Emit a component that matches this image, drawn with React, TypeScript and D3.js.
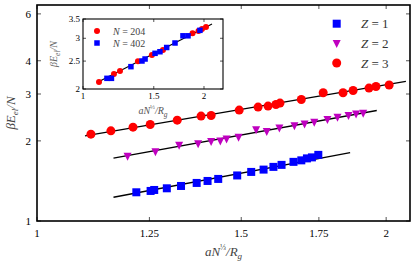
import { scaleLog } from 'd3';

// Z = 1 (blue squares)
const z1X = [1.218, 1.253, 1.262, 1.294, 1.331, 1.373, 1.403, 1.433, 1.488, 1.530, 1.568, 1.599, 1.625, 1.664, 1.690, 1.709, 1.726, 1.748];
const z1Y = [1.282, 1.297, 1.308, 1.327, 1.354, 1.390, 1.414, 1.439, 1.483, 1.529, 1.560, 1.597, 1.625, 1.668, 1.690, 1.719, 1.734, 1.772];
// Z = 2 (magenta triangles)
const z2X = [1.197, 1.265, 1.326, 1.377, 1.413, 1.439, 1.457, 1.492, 1.545, 1.578, 1.618, 1.667, 1.701, 1.734, 1.780, 1.816, 1.856, 1.884, 1.911];
const z2Y = [1.764, 1.834, 1.941, 1.966, 2.001, 2.013, 2.045, 2.080, 2.216, 2.182, 2.252, 2.298, 2.332, 2.364, 2.421, 2.470, 2.506, 2.543, 2.556];
// Z = 3 (red circles)
const z3X = [1.113, 1.158, 1.210, 1.252, 1.321, 1.385, 1.413, 1.494, 1.551, 1.582, 1.607, 1.620, 1.690, 1.765, 1.836, 1.873, 1.933, 1.960, 2.012];
const z3Y = [2.120, 2.182, 2.252, 2.304, 2.393, 2.478, 2.491, 2.610, 2.679, 2.702, 2.740, 2.773, 2.861, 3.032, 3.032, 3.093, 3.158, 3.203, 3.242];

// fit lines [x0, x1], [y0, y1]
const fit1X = [1.164, 1.862];
const fit1Y = [1.228, 1.807];
const fit2X = [1.164, 1.963];
const fit2Y = [1.722, 2.601];
const fit3X = [1.100, 2.080];
const fit3Y = [2.089, 3.344];

// inset
const n204X = [1.096, 1.194, 1.236, 1.370, 1.484, 1.581, 1.873, 1.938, 1.977, 2.023];
const n204Y = [2.115, 2.254, 2.309, 2.496, 2.625, 2.732, 3.122, 3.180, 3.231, 3.283];
const n402X = [1.147, 1.177, 1.316, 1.402, 1.427, 1.511, 1.554, 1.615, 1.694, 1.773, 1.825, 1.954];
const n402Y = [2.178, 2.178, 2.391, 2.502, 2.542, 2.660, 2.694, 2.787, 2.889, 3.060, 3.060, 3.197];
const fitInX = [1.090, 2.094];
const fitInY = [2.115, 3.363];

const xTicks = [1, 1.25, 1.5, 1.75, 2];
const yTicks = [1, 2, 3, 4, 6];
const insetXTicks = [1, 1.5, 2];
const insetYTicks = [2, 2.5, 3, 3.5];

const BLUE = '#0000ff';
const MAGENTA = '#bf00bf';
const RED = '#ff0000';
const font = 'Liberation Serif, DejaVu Serif, serif';

const width = 416;
const height = 267;
const frame = { left: 37, right: 410, top: 5, bottom: 221 };
const inset = { left: 83, right: 223, top: 19, bottom: 89 };

const Square = ({ x, y, s, fill }: any) => (
  <rect x={x - s / 2} y={y - s / 2} width={s} height={s} fill={fill} />
);
const TriDown = ({ x, y, r, fill }: any) => (
  <path d={`M${x - r},${y - r} L${x + r},${y - r} L${x},${y + r} Z`} fill={fill} />
);

function App() {
  const x = scaleLog().domain([1, 2.097]).range([frame.left, frame.right]);
  const y = scaleLog().domain([1, 6.48]).range([frame.bottom, frame.top]);
  const xi = scaleLog().domain([1, 2.23]).range([inset.left, inset.right]);
  const yi = scaleLog().domain([2, 3.5]).range([inset.bottom, inset.top]);

  const fitLine = (sx: any, sy: any, fx: number[], fy: number[], w: number) => (
    <line x1={sx(fx[0])} y1={sy(fy[0])} x2={sx(fx[1])} y2={sy(fy[1])} stroke='black' strokeWidth={w} />
  );

  return (
    <svg width={width} height={height} style={{ position: 'absolute', left: 0, top: 0, background: 'white' }} fontFamily={font}>
      {/* main ticks */}
      {xTicks.map(t => (
        <g key={'xt' + t}>
          <line x1={x(t)} x2={x(t)} y1={frame.bottom} y2={frame.bottom - 4} stroke='#555' />
          <line x1={x(t)} x2={x(t)} y1={frame.top} y2={frame.top + 4} stroke='#555' />
          <text x={x(t)} y={frame.bottom + 16} textAnchor='middle' fontSize={11}>{t}</text>
        </g>
      ))}
      {yTicks.map(t => (
        <g key={'yt' + t}>
          <line x1={frame.left} x2={frame.left + 4} y1={y(t)} y2={y(t)} stroke='#555' />
          <line x1={frame.right} x2={frame.right - 4} y1={y(t)} y2={y(t)} stroke='#555' />
          <text x={frame.left - 6} y={y(t)} dy='.35em' textAnchor='end' fontSize={11}>{t}</text>
        </g>
      ))}

      {/* fits */}
      {fitLine(x, y, fit3X, fit3Y, 1.3)}
      {fitLine(x, y, fit2X, fit2Y, 1.3)}
      {fitLine(x, y, fit1X, fit1Y, 1.3)}

      {z3X.map((d, i) => <circle key={'c' + i} cx={x(d)} cy={y(z3Y[i])} r={4.5} fill={RED} />)}
      {z2X.map((d, i) => <TriDown key={'t' + i} x={x(d)} y={y(z2Y[i]) + 1.3} r={4} fill={MAGENTA} />)}
      {z1X.map((d, i) => <Square key={'s' + i} x={x(d)} y={y(z1Y[i])} s={8} fill={BLUE} />)}

      <rect x={frame.left} y={frame.top} width={frame.right - frame.left} height={frame.bottom - frame.top}
        fill='none' stroke='black' strokeWidth={1.6} />

      {/* axis labels */}
      <text x={(frame.left + frame.right) / 2} y={256} textAnchor='middle' fontSize={13} fill='#444' fontStyle='italic'>
        aN<tspan fontSize={8} dy={-6} fontStyle='normal'>⅓</tspan><tspan dy={6}>/R</tspan><tspan fontSize={9} dy={3}>g</tspan>
      </text>
      <text transform={`translate(15, ${(frame.top + frame.bottom) / 2}) rotate(-90)`} textAnchor='middle' fontSize={13} fill='#444' fontStyle='italic'>
        βE<tspan fontSize={9} dy={3}>el</tspan><tspan dy={-3}>/N</tspan>
      </text>

      {/* legend */}
      <Square x={336.7} y={23.7} s={8} fill={BLUE} />
      <TriDown x={336.7} y={44} r={4} fill={MAGENTA} />
      <circle cx={336.7} cy={63} r={4.5} fill={RED} />
      {['1', '2', '3'].map((z, i) => (
        <text key={'lg' + z} x={361} y={23.7 + i * 19.7} dy='.35em' fontSize={13} fill='#333'>
          <tspan fontStyle='italic'>Z</tspan> = {z}
        </text>
      ))}

      {/* inset */}
      <rect x={inset.left} y={inset.top} width={inset.right - inset.left} height={inset.bottom - inset.top} fill='white' />
      {insetXTicks.map(t => (
        <g key={'ixt' + t}>
          <line x1={xi(t)} x2={xi(t)} y1={inset.bottom} y2={inset.bottom - 3} stroke='#555' />
          <line x1={xi(t)} x2={xi(t)} y1={inset.top} y2={inset.top + 3} stroke='#555' />
          <text x={xi(t)} y={inset.bottom + 10} textAnchor='middle' fontSize={9}>{t}</text>
        </g>
      ))}
      {insetYTicks.map(t => (
        <g key={'iyt' + t}>
          <line x1={inset.left} x2={inset.left + 3} y1={yi(t)} y2={yi(t)} stroke='#555' />
          <line x1={inset.right} x2={inset.right - 3} y1={yi(t)} y2={yi(t)} stroke='#555' />
          <text x={inset.left - 3} y={yi(t)} dy='.35em' textAnchor='end' fontSize={9}>{t}</text>
        </g>
      ))}
      {fitLine(xi, yi, fitInX, fitInY, 1.1)}
      {n204X.map((d, i) => <circle key={'ic' + i} cx={xi(d)} cy={yi(n204Y[i])} r={3} fill={RED} />)}
      {n402X.map((d, i) => <Square key={'is' + i} x={xi(d)} y={yi(n402Y[i])} s={5.5} fill={BLUE} />)}
      <rect x={inset.left} y={inset.top} width={inset.right - inset.left} height={inset.bottom - inset.top}
        fill='none' stroke='black' strokeWidth={1.1} />

      <circle cx={97} cy={31} r={3} fill={RED} />
      <Square x={97} y={43} s={5.5} fill={BLUE} />
      <text x={113} y={31} dy='.35em' fontSize={10} fill='#444'><tspan fontStyle='italic'>N</tspan> = 204</text>
      <text x={113} y={43} dy='.35em' fontSize={10} fill='#444'><tspan fontStyle='italic'>N</tspan> = 402</text>

      <text x={(inset.left + inset.right) / 2} y={114} textAnchor='middle' fontSize={10} fill='#555' fontStyle='italic'>
        aN<tspan fontSize={6.5} dy={-5} fontStyle='normal'>⅓</tspan><tspan dy={5}>/R</tspan><tspan fontSize={7.5} dy={2.5}>g</tspan>
      </text>
      <text transform={`translate(57, ${(inset.top + inset.bottom) / 2}) rotate(-90)`} textAnchor='middle' fontSize={10} fill='#666' fontStyle='italic'>
        βE<tspan fontSize={7.5} dy={2.5}>el</tspan><tspan dy={-2.5}>/N</tspan>
      </text>
    </svg>
  );
}

export default App;
